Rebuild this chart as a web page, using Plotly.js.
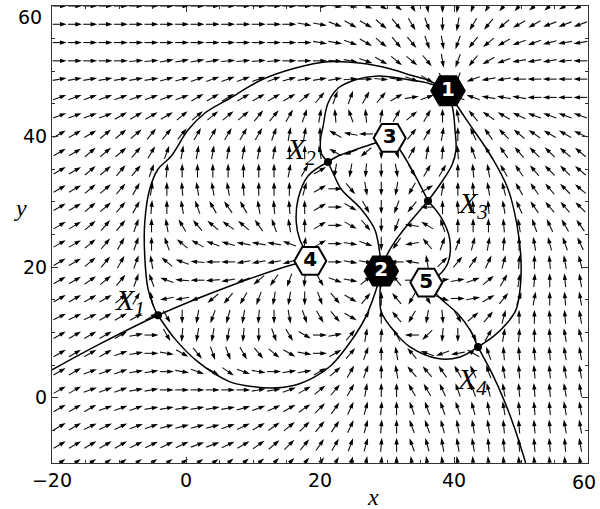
<!DOCTYPE html>
<html><head><meta charset="utf-8">
<script src="https://cdn.plot.ly/plotly-3.0.1.min.js"></script>
<style>html,body{margin:0;padding:0;background:#fff}#chart{width:600px;height:509px}</style>
</head><body><div id="chart"></div>
<script>
// ---------- grid of the direction field ----------
const gridX = [-18.857,-16.571,-14.286,-12.0,-9.714,-7.429,-5.143,-2.857,-0.571,1.714,4.0,6.286,8.571,10.857,13.143,15.429,17.714,20.0,22.286,24.571,26.857,29.143,31.429,33.714,36.0,38.286,40.571,42.857,45.143,47.429,49.714,52.0,54.286,56.571,58.857];
const gridY = [60,57.2,54.4,51.6,48.8,46,43.2,40.4,37.6,34.8,32,29.2,26.4,23.6,20.8,18,15.2,12.4,9.6,6.8,4,1.2,-1.6,-4.4,-7.2,-10];
// arrow direction (degrees, counter-clockwise from +x), one row per gridY
const arrowAngles = [
[0,0,0,0,0,0,0,0,0,0,0,0,0,0,0,0,0,0,350,350,340,330,320,300,280,270,260,250,240,230,230,220,220,210,210],
[0,0,0,0,0,0,0,0,0,0,0,0,0,0,0,0,350,350,340,330,330,320,310,300,290,270,260,240,230,220,210,210,200,200,200],
[0,0,0,0,0,0,0,0,0,0,0,0,0,0,0,0,0,350,350,340,330,320,310,310,290,280,250,230,220,210,200,200,195,190,190],
[0,0,0,0,0,5,5,10,10,10,10,5,5,5,5,0,0,0,355,350,340,330,320,320,310,280,250,230,210,200,190,190,190,185,180],
[10,10,10,10,10,10,10,15,15,20,20,20,20,20,20,15,10,10,10,5,0,355,350,340,330,300,250,200,190,190,180,180,180,180,180],
[20,20,20,20,20,20,20,20,20,30,30,30,30,30,30,30,40,50,70,70,60,50,30,10,20,20,160,160,170,170,170,180,180,180,180],
[20,20,20,20,30,30,30,30,40,40,40,40,40,50,50,60,70,80,95,110,95,80,60,40,60,90,100,130,145,150,155,160,160,160,160],
[30,30,30,40,40,40,50,50,50,60,60,60,60,60,70,80,80,90,150,170,180,0,0,50,60,80,90,115,125,135,140,145,150,150,155],
[30,30,40,40,40,50,60,70,80,80,80,80,80,80,80,90,90,100,150,200,220,270,290,60,80,85,95,110,120,125,130,135,135,140,140],
[30,30,40,40,50,50,70,85,90,90,90,90,90,90,90,80,60,30,260,260,265,270,280,300,60,60,90,95,100,120,125,130,135,135,140],
[30,30,40,40,50,60,80,90,95,100,100,100,95,90,90,90,75,30,0,310,280,270,260,240,30,80,90,95,100,105,120,125,130,135,140],
[30,30,40,40,50,60,85,90,100,110,120,125,120,100,95,95,90,30,0,330,300,270,250,230,180,90,95,95,95,100,115,125,130,130,135],
[30,30,40,50,50,70,90,100,120,130,140,145,140,125,110,100,90,30,0,330,310,270,250,170,150,110,90,90,90,95,100,110,115,120,125],
[30,30,40,50,60,70,90,110,140,150,160,165,170,170,170,160,80,30,0,350,340,270,235,190,130,70,70,75,80,85,90,100,105,110,115],
[30,30,40,50,60,70,100,140,160,175,180,180,190,190,190,195,0,0,0,350,350,0,180,170,100,45,50,55,65,75,85,90,95,100,105],
[30,30,35,40,50,70,110,160,175,180,185,190,200,220,235,250,265,300,340,350,40,90,130,0,0,10,10,20,40,60,80,85,90,95,100],
[30,30,30,30,40,60,100,190,190,200,220,230,240,250,260,260,270,290,310,330,50,90,130,240,300,340,0,10,30,50,70,80,90,95,100],
[25,25,25,30,30,30,30,300,270,260,250,255,260,265,270,280,290,300,310,330,60,90,130,240,260,275,300,40,50,75,90,90,95,95,100],
[30,30,30,30,30,10,0,300,265,260,260,260,265,270,290,300,330,0,10,50,80,85,120,180,225,265,270,300,60,80,85,90,95,100,105],
[30,30,30,30,20,10,0,350,330,310,290,290,300,310,320,330,350,0,30,50,70,90,100,130,160,200,190,150,110,95,95,95,95,100,100],
[30,30,20,20,20,10,10,0,350,340,330,325,340,350,0,10,10,30,40,60,70,90,100,130,130,125,120,115,110,100,95,95,95,100,100],
[30,30,20,20,20,10,10,0,0,0,0,0,0,10,10,20,30,40,50,60,80,90,90,120,120,115,110,110,105,100,95,95,95,100,100],
[30,30,30,20,20,20,10,10,10,10,10,10,15,20,25,30,35,45,55,65,75,85,90,110,110,110,110,105,100,100,95,95,95,100,100],
[30,30,25,25,25,20,20,15,15,15,15,20,25,30,35,40,45,50,55,65,75,85,90,110,110,105,100,100,100,95,95,95,95,100,100],
[30,30,30,30,30,25,25,25,25,20,20,25,30,35,40,45,50,55,60,70,75,85,90,110,105,100,100,100,95,95,95,95,95,95,100],
[35,35,35,35,35,35,35,35,35,35,35,40,40,40,45,45,50,55,60,70,80,85,90,100,100,100,100,95,95,95,95,95,95,95,100]
];

// ---------- critical points ----------
const sinkX = [39.1, 29.15], sinkY = [47.03, 19.42], sinkNames = ['1', '2'];
const sourceX = [30.4, 18.55, 35.87], sourceY = [39.8, 20.95, 17.63], sourceNames = ['3', '4', '5'];
const saddleX = [-4.18, 21.19, 36.12, 43.58], saddleY = [12.63, 36.11, 30.14, 7.78];
const saddleNames = ['X<sub>1</sub>', 'X<sub>2</sub>', 'X<sub>3</sub>', 'X<sub>4</sub>'];

// ---------- separatrices ----------
const sepA_x = [-20, -12.84, -4.18, 6.57, 16.27, 18.55];
const sepA_y = [4.26, 8.24, 12.63, 17.12, 20.49, 20.95];
const sepB_x = [-4.18, -4.67, -5.67, -6.16, -6.16, -5.42, -4.18, -2.19, 0.30, 2.79, 6.57, 11.24, 16.22, 21.19, 26.16, 30.15, 33.43, 36.12, 39.1];
const sepB_y = [12.63, 13.6, 16.66, 21.72, 26.82, 31.93, 34.99, 37.03, 41.01, 43.57, 45.87, 48.67, 50.46, 51.47, 51.23, 50.46, 49.43, 48.63, 47.03];
const sepC_x = [-4.18, -1.69, 1.79, 6.57, 9.25, 12.73, 16.22, 19.21, 21.69, 24.18, 26.16, 27.16, 28.36, 29.15];
const sepC_y = [12.63, 9.05, 5.48, 2.42, 1.81, 1.50, 1.91, 3.18, 4.98, 8.04, 11.10, 13.14, 16.49, 19.42];
const sepD_x = [21.19, 20.19, 20.07, 20.45, 21.19, 22.69, 25.18, 28.66, 33.43, 36.42, 39.1];
const sepD_y = [36.11, 37.44, 39.48, 41.52, 45.10, 47.40, 48.67, 49.28, 48.67, 48.1, 47.03];
const sepE_x = [21.19, 22.0, 23.18, 26.16, 28.16, 28.91, 29.15];
const sepE_y = [36.11, 34.3, 31.93, 28.87, 25.80, 22.22, 19.42];
const sepF_x = [21.19, 18.21, 16.72, 16.46, 16.97, 17.96, 18.55];
const sepF_y = [36.11, 33.97, 30.40, 26.82, 24.27, 22.22, 20.95];
const sepG_x = [21.19, 22.69, 25.18, 28.16, 30.4];
const sepG_y = [36.11, 37.03, 37.95, 38.97, 39.8];
const sepH_x = [30.4, 31.94, 33.73, 34.93, 36.12];
const sepH_y = [39.8, 37.95, 34.89, 32.59, 30.14];
const sepI_x = [36.12, 38.06, 39.70, 40.30, 40.15, 39.85, 39.1];
const sepI_y = [30.14, 32.89, 35.65, 37.95, 41.01, 44.07, 47.03];
const sepJ_x = [36.12, 34.18, 32.69, 31.04, 29.85, 29.15];
const sepJ_y = [30.14, 27.84, 26.0, 23.71, 21.56, 19.42];
const sepK_x = [36.12, 38.10, 39.36, 39.10, 37.61, 35.87];
const sepK_y = [30.14, 27.58, 24.27, 20.69, 18.65, 17.63];
const sepL_x = [43.58, 40.90, 37.61, 33.43, 31.15, 29.15, 28.96, 29.15];
const sepL_y = [7.78, 6.25, 5.99, 7.78, 10.08, 13.14, 15.74, 19.42];
const sepM_x = [43.58, 45.97, 48.06, 49.25, 49.85, 50.0, 49.40, 48.06, 45.52, 42.39, 40.60, 39.1];
const sepM_y = [7.78, 9.46, 11.61, 13.45, 16.52, 21.10, 26.46, 31.98, 37.03, 41.78, 44.53, 47.03];
const sepN_x = [35.87, 37.91, 40.60, 42.39, 43.58, 45.57, 47.57, 49.06, 50.7];
const sepN_y = [17.63, 15.28, 12.83, 10.38, 7.78, 3.95, -0.64, -4.73, -10.0];

const xTickVals = [-20, 0, 20, 40], xTickText = ['\u221220', '0', '20', '40'];
const yTickVals = [0, 20, 40], yTickText = ['0', '20', '40'];

// ---------- build arrows ----------
const W = 600, H = 509, M = {l: 52, r: 12, t: 6, b: 46};
const pxX = (W - M.l - M.r) / 80, pxY = (H - M.t - M.b) / 70;
const half = 7;
const shaftX = [], shaftY = [], tipX = [], tipY = [], tipAng = [];
arrowAngles.forEach((row, j) => row.forEach((deg, k) => {
  const t = deg * Math.PI / 180, c = Math.cos(t), s = Math.sin(t);
  const x0 = gridX[k], y0 = gridY[j];
  shaftX.push(x0 - half * c / pxX, x0 + (half - 3) * c / pxX, null);
  shaftY.push(y0 - half * s / pxY, y0 + (half - 3) * s / pxY, null);
  tipX.push(x0 + half * c / pxX);
  tipY.push(y0 + half * s / pxY);
  tipAng.push(90 - deg);
}));

const traces = [
  {type: 'scatter', mode: 'lines', x: shaftX, y: shaftY, line: {color: '#111', width: 1.1}, hoverinfo: 'skip'},
  {type: 'scatter', mode: 'markers', x: tipX, y: tipY, marker: {symbol: 'arrow', size: 7, angle: tipAng, color: '#000', line: {width: 0}}, hoverinfo: 'skip'}
];
const seps = [[sepA_x, sepA_y], [sepB_x, sepB_y], [sepC_x, sepC_y], [sepD_x, sepD_y], [sepE_x, sepE_y], [sepF_x, sepF_y], [sepG_x, sepG_y], [sepH_x, sepH_y], [sepI_x, sepI_y], [sepJ_x, sepJ_y], [sepK_x, sepK_y], [sepL_x, sepL_y], [sepM_x, sepM_y], [sepN_x, sepN_y]];
seps.forEach(([xs, ys]) => traces.push({type: 'scatter', mode: 'lines', x: xs, y: ys, line: {color: '#000', width: 1.5, shape: 'spline', smoothing: 1}, hoverinfo: 'skip'}));
traces.push({type: 'scatter', mode: 'markers', x: saddleX, y: saddleY, marker: {symbol: 'circle', size: 8, color: '#000'}, hoverinfo: 'skip'});
traces.push({type: 'scatter', mode: 'markers+text', x: sinkX, y: sinkY, text: sinkNames, textposition: 'middle center',
  textfont: {family: 'DejaVu Sans', size: 20, color: '#fff', weight: 'bold'},
  marker: {symbol: 'hexagon2', size: 34, color: '#000', line: {color: '#000', width: 1.5}}, hoverinfo: 'skip'});
traces.push({type: 'scatter', mode: 'markers+text', x: sourceX, y: sourceY, text: sourceNames, textposition: 'middle center',
  textfont: {family: 'DejaVu Sans', size: 20, color: '#000', weight: 'bold'},
  marker: {symbol: 'hexagon2', size: 32, color: '#fff', line: {color: '#000', width: 2}}, hoverinfo: 'skip'});

const labelPosX = [-8.3, 17.2, 42.9, 42.7], labelPosY = [14.6, 37.8, 29.5, 2.6];
const annotations = saddleNames.map((t, i) => ({x: labelPosX[i], y: labelPosY[i], xref: 'x', yref: 'y', text: t, showarrow: false,
  font: {family: 'Liberation Serif', size: 30, style: 'italic', color: '#000'}}));
annotations.push({x: (373 - M.l) / 536, y: (463 - 497) / 457, xref: 'paper', yref: 'paper', yanchor: 'middle', text: 'x', showarrow: false, font: {family: 'Liberation Serif', size: 24, style: 'italic', color: '#000'}});
annotations.push({x: (12 - M.l) / 536, y: (463 - 208) / 457, xref: 'paper', yref: 'paper', yanchor: 'middle', text: 'y', showarrow: false, font: {family: 'Liberation Serif', size: 24, style: 'italic', color: '#000'}});
annotations.push({x: 1, y: 0, xref: 'paper', yref: 'paper', yanchor: 'top', xanchor: 'center', xshift: -4, yshift: -6, text: '60', showarrow: false, font: {family: 'DejaVu Sans', size: 19, color: '#000'}});
annotations.push({x: 0, y: 1, xref: 'paper', yref: 'paper', xanchor: 'right', yanchor: 'top', xshift: -8, yshift: 2, text: '60', showarrow: false, font: {family: 'DejaVu Sans', size: 19, color: '#000'}});

const axisCommon = {showgrid: false, zeroline: false, showline: true, linecolor: '#333', linewidth: 1, mirror: 'ticks',
  ticks: 'inside', ticklen: 6, tickwidth: 1, tickcolor: '#333', tickfont: {family: 'DejaVu Sans', size: 19, color: '#000'}};
const layout = {
  width: W, height: H, margin: {l: M.l, r: M.r, t: M.t, b: M.b, pad: 0},
  paper_bgcolor: '#fff', plot_bgcolor: '#fff', showlegend: false,
  xaxis: Object.assign({}, axisCommon, {range: [-20, 60], tickmode: 'array', tickvals: xTickVals, ticktext: xTickText,
    minor: {tickmode: 'linear', tick0: 0, dtick: 5, ticks: 'inside', ticklen: 3, tickcolor: '#333'}}),
  yaxis: Object.assign({}, axisCommon, {range: [-10, 60], tickmode: 'array', tickvals: yTickVals, ticktext: yTickText,
    minor: {tickmode: 'linear', tick0: 0, dtick: 5, ticks: 'inside', ticklen: 3, tickcolor: '#333'}}),
  annotations: annotations
};
Plotly.newPlot('chart', traces, layout, {staticPlot: true, displayModeBar: false});
</script></body></html>
